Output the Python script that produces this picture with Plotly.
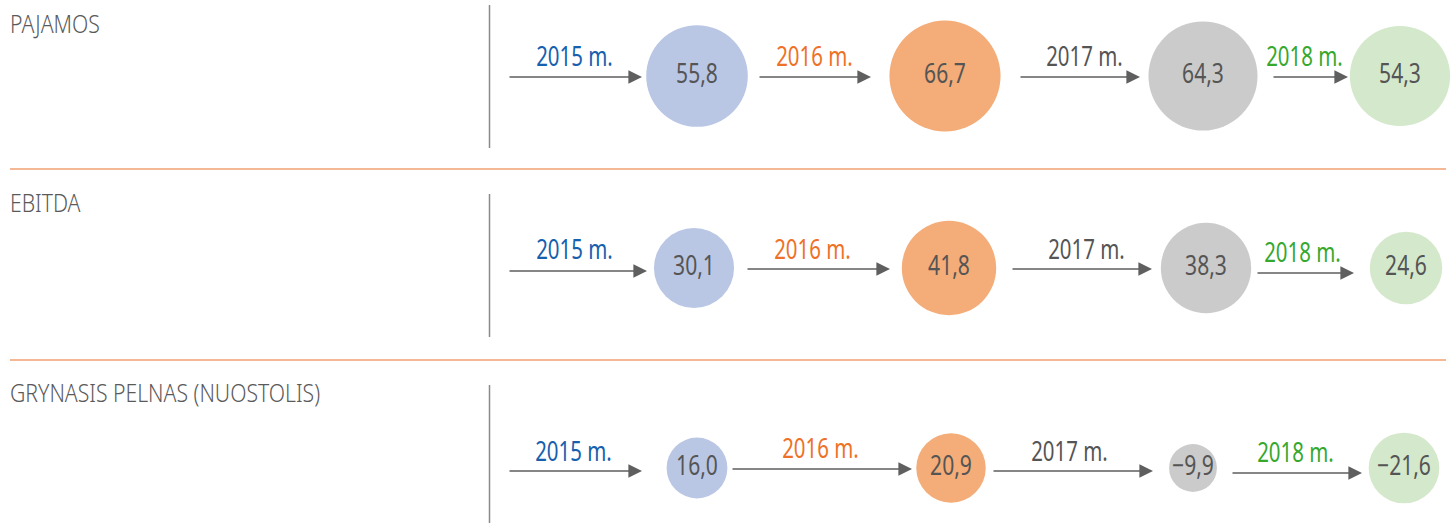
import plotly.graph_objects as go
import math

# ---------------- data ----------------
row_labels = ["PAJAMOS", "EBITDA", "GRYNASIS PELNAS (NUOSTOLIS)"]
years = ["2015 m.", "2016 m.", "2017 m.", "2018 m."]
pajamos = [55.8, 66.7, 64.3, 54.3]
ebitda = [30.1, 41.8, 38.3, 24.6]
grynasis = [16.0, 20.9, -9.9, -21.6]
series = [pajamos, ebitda, grynasis]

# ---------------- styles / layout constants ----------------
W, H = 1452, 523
FONT = "Noto Sans, sans-serif"
circle_colors = ["#BAC7E4", "#F4AC78", "#CBCBCB", "#D4E8CB"]
year_colors = ["#1660AE", "#EE7127", "#555555", "#36A82E"]
text_color = "#555555"
arrow_color = "#5F5F5F"
sep_color = "#F0A070"
size_k = [6.8, 7.3, 7.6]          # radius = k * sqrt(|value|)
LABEL_SIZE, YEAR_SIZE, VALUE_SIZE = 26, 28, 27
# horizontal condensing factor per font size (to imitate a condensed face)
condense = {LABEL_SIZE: 0.815, YEAR_SIZE: 0.73, VALUE_SIZE: 0.78}

row_label_y = [23, 202, 392]
vline_span = [(5, 148), (194, 337), (385, 523)]
sep_y = [169, 360]
circle_y = [76, 268, 468]
circle_x = [[697, 945, 1203, 1400],
            [694, 949, 1206, 1406],
            [697, 951, 1193, 1404]]
arrows = [[(508, 642, 77), (758, 871, 77), (1019, 1140, 77), (1272, 1348, 77)],
          [(508, 647, 271), (746, 890, 269), (1011, 1152, 269), (1256, 1354, 273)],
          [(508, 642, 471), (731, 912, 469), (992, 1153, 471), (1231, 1362, 473)]]
year_pos = [[(574, 55), (814, 55), (1084, 55), (1304, 55)],
            [(574, 248), (812, 248), (1086, 248), (1302, 251)],
            [(573, 450), (820, 447), (1069, 450), (1295, 451)]]


def fmt(v):
    s = f"{abs(v):.1f}".replace(".", ",")
    return ("\u2212" if v < 0 else "") + s


fig = go.Figure()
annotations = []
shapes = []

for r, vals in enumerate(series):
    fig.add_trace(go.Scatter(
        x=circle_x[r], y=[circle_y[r]] * len(vals),
        mode="markers+text",
        marker=dict(size=[2 * size_k[r] * math.sqrt(abs(v)) for v in vals],
                    color=circle_colors, line=dict(width=0), opacity=1),
        text=[fmt(v) for v in vals],
        textposition="middle center",
        textfont=dict(family=FONT, size=VALUE_SIZE, color=text_color),
        hoverinfo="skip", showlegend=False, cliponaxis=False,
    ))
    for (x0, x1, y) in arrows[r]:
        annotations.append(dict(
            x=x1, y=y, ax=x0, ay=y, xref="x", yref="y", axref="x", ayref="y",
            text="", showarrow=True, arrowhead=2, arrowsize=1.7, arrowwidth=1.6,
            arrowcolor=arrow_color, standoff=0, startstandoff=0))
    for i, (xx, yy) in enumerate(year_pos[r]):
        annotations.append(dict(
            x=xx, y=yy, xref="x", yref="y", text=years[i], showarrow=False,
            font=dict(family=FONT, size=YEAR_SIZE, color=year_colors[i]),
            xanchor="center", yanchor="middle"))
    annotations.append(dict(
        x=8, y=row_label_y[r], xref="x", yref="y", text=row_labels[r],
        showarrow=False, align="left",
        font=dict(family=FONT, size=LABEL_SIZE, color="#5A5A5A", weight=300),
        xanchor="left", yanchor="middle"))
    shapes.append(dict(type="line", x0=489.5, x1=489.5, y0=vline_span[r][0],
                       y1=vline_span[r][1], xref="x", yref="y",
                       line=dict(color="#8A8A8A", width=1.5)))

for y in sep_y:
    shapes.append(dict(type="line", x0=10, x1=1446, y0=y, y1=y, xref="x", yref="y",
                       line=dict(color=sep_color, width=1.5)))

fig.update_layout(
    width=W, height=H, margin=dict(l=0, r=0, t=0, b=0),
    paper_bgcolor="white", plot_bgcolor="white",
    xaxis=dict(range=[0, W], visible=False, fixedrange=True),
    yaxis=dict(range=[H, 0], visible=False, fixedrange=True),
    annotations=annotations, shapes=shapes,
)

factors_js = "{" + ",".join(f"'{k}':{v}" for k, v in condense.items()) + "}"
post = """
document.body.style.margin='0';
document.body.style.overflow='hidden';
var F=%s;
var gd=document.getElementById('{plot_id}');
gd.querySelectorAll('g.annotation text, g.textpoint text').forEach(function(t){
  var fs=String(Math.round(parseFloat(t.style.fontSize)));
  if(!(fs in F)) return;
  var L=t.getComputedTextLength();
  if(L>0){t.setAttribute('textLength',(L*F[fs]).toFixed(2));
          t.setAttribute('lengthAdjust','spacingAndGlyphs');}
});
""" % factors_js

fig.write_html("out.html", config={"displayModeBar": False}, post_script=post)
